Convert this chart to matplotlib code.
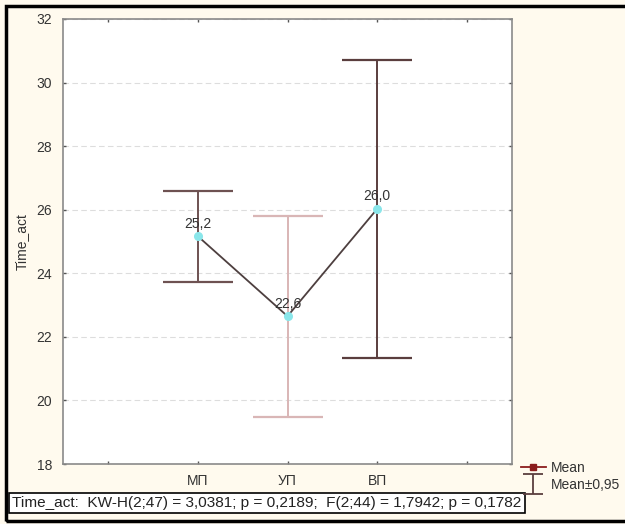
import matplotlib
matplotlib.use("Agg")
import matplotlib.pyplot as plt
from matplotlib.lines import Line2D
from matplotlib.patches import Rectangle
from matplotlib.path import Path

plt.rcParams['font.family'] = ['Liberation Sans', 'DejaVu Sans']

categories = ['МП', 'УП', 'ВП']
means = [25.17, 22.65, 26.03]
mean_labels = ['25,2', '22,6', '26,0']
ci_low = [23.72, 19.47, 21.32]
ci_high = [26.60, 25.80, 30.72]
bar_colors = ['#6e5252', '#d9b6b6', '#5a3e3e']
yticks = [18, 20, 22, 24, 26, 28, 30, 32]
stats_text = "Time_act:  KW-H(2;47) = 3,0381; p = 0,2189;  F(2;44) = 1,7942; p = 0,1782"

bg = '#fffaee'
fig = plt.figure(figsize=(6.25, 5.24), dpi=100, facecolor=bg)
ax = fig.add_axes([63/625, 1-464/524, (512-63)/625, (464-19)/524])
ax.set_facecolor('white')

xpos = [1, 2, 3]
for x, lo, hi, m, c in zip(xpos, ci_low, ci_high, means, bar_colors):
    ax.errorbar([x], [m], yerr=[[m-lo], [hi-m]], fmt='none', ecolor=c,
                elinewidth=1.4, capsize=25, capthick=1.6, zorder=2)

ax.plot(xpos, means, color='#4d3f3f', lw=1.3, zorder=3)
ax.plot(xpos, means, linestyle='none', marker='o', ms=5.5, color='#8ae6ea',
        markeredgecolor='#8ae6ea', zorder=4)
for x, m, lab in zip(xpos, means, mean_labels):
    ax.annotate(lab, (x, m), xytext=(0, 4), textcoords='offset points',
                ha='center', va='bottom', fontsize=10, color='#333333', zorder=5)

ax.set_xlim(-0.5, 4.5)
ax.set_ylim(18, 32)
ax.set_xticks([0, 1, 2, 3, 4])
ax.set_xticklabels([''] + categories + [''])
ax.set_yticks(yticks)
ax.tick_params(direction='in', length=2, width=1, colors='#555555',
               labelcolor='#333333', labelsize=10, top=True, right=True)
ax.tick_params(axis='x', pad=7)
ax.tick_params(axis='y', pad=8)
for s in ax.spines.values():
    s.set_color('#8a8a8a')
    s.set_linewidth(1.2)
ax.yaxis.grid(True, linestyle=(0, (5, 3)), color='#dddddd', lw=0.8)
ax.set_axisbelow(True)
ax.set_ylabel('Time_act', fontsize=10, color='#333333', labelpad=5)

# legend
ibar = Path([(-1, 1), (1, 1), (0, 1), (0, -1), (-1, -1), (1, -1)],
            [Path.MOVETO, Path.LINETO, Path.MOVETO, Path.LINETO, Path.MOVETO, Path.LINETO])
h_mean = Line2D([], [], color='#8b1c1c', lw=1.3, marker='s', ms=4)
h_ci = Line2D([], [], color='#5a3e3e', lw=0, marker=ibar, ms=14, mew=1.3,
              markerfacecolor='none')
leg = fig.legend([h_mean, h_ci], ['Mean', 'Mean±0,95'],
                 loc='upper left', bbox_to_anchor=(515/625, 1-455/524),
                 frameon=False, fontsize=10, handlelength=1.8,
                 handletextpad=0.4, labelspacing=0.25, borderaxespad=0)
for t in leg.get_texts():
    t.set_color('#333333')

fig.text(12/625, 1-503/524, stats_text, fontsize=11.1, color='#222222',
         va='center', ha='left',
         bbox=dict(boxstyle='square,pad=0.22', fc='white', ec='black', lw=1.2))

fig.patches.append(Rectangle((6/625, 3/524), 1.2, 1-9/524, transform=fig.transFigure,
                             fill=False, ec='black', lw=2.5))

fig.savefig('out.png', dpi=100, facecolor=bg)
